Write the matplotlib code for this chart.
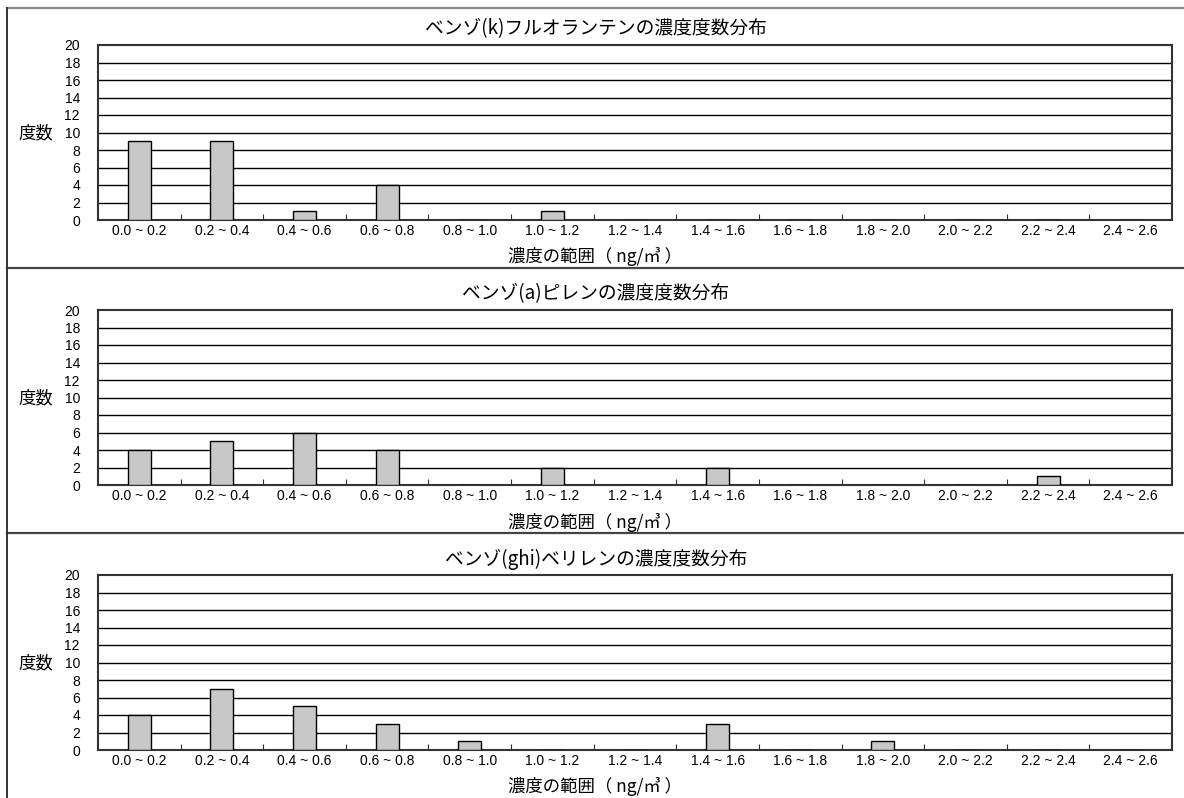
import numpy as np
import matplotlib.pyplot as plt
from matplotlib.lines import Line2D

plt.rcParams['font.family'] = ['Noto Sans CJK JP', 'DejaVu Sans']

ranges = ["0.0 ~ 0.2", "0.2 ~ 0.4", "0.4 ~ 0.6", "0.6 ~ 0.8", "0.8 ~ 1.0",
          "1.0 ~ 1.2", "1.2 ~ 1.4", "1.4 ~ 1.6", "1.6 ~ 1.8", "1.8 ~ 2.0",
          "2.0 ~ 2.2", "2.2 ~ 2.4", "2.4 ~ 2.6"]

titles = ["ベンゾ(k)フルオランテンの濃度度数分布",
          "ベンゾ(a)ピレンの濃度度数分布",
          "ベンゾ(ghi)ベリレンの濃度度数分布"]

bkf_counts = [9, 9, 1, 4, 0, 1, 0, 0, 0, 0, 0, 0, 0]
bap_counts = [4, 5, 6, 4, 0, 2, 0, 2, 0, 0, 0, 1, 0]
bghip_counts = [4, 7, 5, 3, 1, 0, 0, 3, 0, 1, 0, 0, 0]

W, H = 1184, 798
fig = plt.figure(figsize=(W / 100, H / 100), dpi=100)

# outer frame and panel separators (pixel coords -> figure fraction)
def hline(y, color):
    fig.add_artist(Line2D([7 / W, 1], [1 - y / H, 1 - y / H], color=color, lw=1.6,
                          transform=fig.transFigure))

hline(8, '#8a8a8a')
hline(268, '#444444')
hline(533, '#444444')
fig.add_artist(Line2D([7 / W, 7 / W], [0, 1 - 8 / H], color='#333333', lw=1.4,
                      transform=fig.transFigure))

x = np.arange(len(ranges))
ax_left, ax_right = 98, 1172
ax_h = 175

for i, (title, counts) in enumerate(zip(titles, [bkf_counts, bap_counts, bghip_counts])):
    off = 265 * i
    top = 45 + off
    ax = fig.add_axes([ax_left / W, 1 - (top + ax_h) / H,
                       (ax_right - ax_left) / W, ax_h / H])
    ax.bar(x, counts, width=0.28, color='#c8c8c8', edgecolor='black', lw=1.0, zorder=3)
    ax.set_xlim(-0.5, len(ranges) - 0.5)
    ax.set_ylim(0, 20)
    ax.set_yticks(np.arange(0, 21, 2))
    for yv in range(2, 20, 2):
        ax.axhline(yv, color='black', lw=1.0, zorder=1)
    for s in ax.spines.values():
        s.set_color('#333333')
        s.set_linewidth(1.5)

    # tick marks at class boundaries, labels at class centres
    ax.set_xticks(np.arange(0.5, len(ranges) - 1, 1))
    ax.set_xticks(x, minor=True)
    ax.set_xticklabels(ranges, minor=True, family='Liberation Sans', fontsize=10)
    ax.tick_params(axis='x', which='major', direction='in', length=4, color='#333333',
                   labelbottom=False)
    ax.tick_params(axis='x', which='minor', length=0, pad=3)
    ax.tick_params(axis='y', length=0, pad=13)
    for lab in ax.get_yticklabels():
        lab.set_family('Liberation Sans')
        lab.set_fontsize(10)

    fig.text(36 / W, 1 - (133 + off) / H, "度数", fontsize=12.5, ha='center', va='center')
    fig.text(596 / W, 1 - (29 + off) / H, title, fontsize=13.5, ha='center', va='center')
    fig.text(595 / W, 1 - (257 + off) / H, "濃度の範囲（ ng/㎥ ）", fontsize=12.5,
             ha='center', va='center')

fig.savefig('out.png', dpi=100)
